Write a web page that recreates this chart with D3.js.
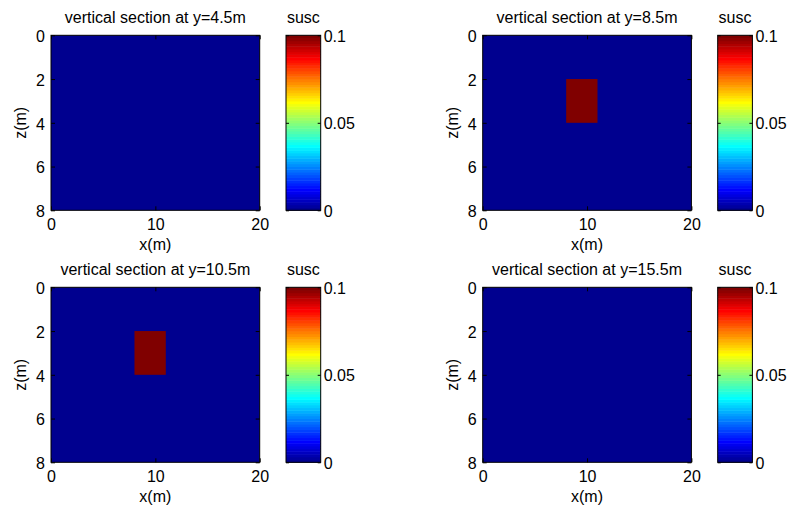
<!DOCTYPE html>
<html>
<head>
<meta charset="utf-8">
<script src="https://cdn.jsdelivr.net/npm/d3@7"></script>
<style>
  html, body { margin: 0; padding: 0; background: #fff; }
  svg text { font-family: "Liberation Sans", Arial, Helvetica, sans-serif; font-size: 16px; fill: #000; }
</style>
</head>
<body>
<svg id="chart" width="791" height="512"></svg>
<script>
// --- data ---
var sectionY   = [4.5, 8.5, 10.5, 15.5];      // y of each vertical section (m)
var bodySusc   = [0, 0.1, 0.1, 0];            // susceptibility of the body in each section
var background = 0;                           // host susceptibility
var bodyX      = [8, 11];                     // body extent along x (m)
var bodyZ      = [2, 4];                      // body extent along z (m)
var xDomain    = [0, 20];
var zDomain    = [0, 8];
var suscDomain = [0, 0.1];
var xTicks     = [0, 10, 20];
var zTicks     = [0, 2, 4, 6, 8];
var cbTicks    = [0, 0.05, 0.1];
var cbLabels   = ["0", "0.05", "0.1"];

// MATLAB jet(64)
var jet = d3.range(64).map(function(i) {
    var t = (i + 1) / 64;
    var f = function(c) { return Math.max(0, Math.min(1, 1.5 - Math.abs(4 * t - c))); };
    return d3.rgb(f(3) * 255, f(2) * 255, f(1) * 255).formatHex();
});
var color = d3.scaleQuantize().domain(suscDomain).range(jet);

var svg = d3.select("#chart");

var plotW = 208.7, plotH = 175, cbGap = 26.3, cbW = 34.7, tickLen = 4;
var origins = [[51, 35.3], [482.7, 35.3], [51, 287.3], [482.7, 287.3]];

var x = d3.scaleLinear().domain(xDomain).range([0, plotW]);
var z = d3.scaleLinear().domain(zDomain).range([0, plotH]);
var s = d3.scaleLinear().domain(suscDomain).range([plotH, 0]);

sectionY.forEach(function(yVal, i) {
    var g = svg.append("g").attr("transform", "translate(" + origins[i][0] + "," + origins[i][1] + ")");

    var cells = [{ x0: xDomain[0], x1: xDomain[1], z0: zDomain[0], z1: zDomain[1], v: background }];
    if (bodySusc[i] > background) {
        cells.push({ x0: bodyX[0], x1: bodyX[1], z0: bodyZ[0], z1: bodyZ[1], v: bodySusc[i] });
    }

    g.selectAll("rect.cell").data(cells).enter().append("rect")
        .attr("class", "cell")
        .attr("x", function(d) { return x(d.x0); })
        .attr("y", function(d) { return z(d.z0); })
        .attr("width", function(d) { return x(d.x1) - x(d.x0); })
        .attr("height", function(d) { return z(d.z1) - z(d.z0); })
        .attr("fill", function(d) { return color(d.v); });

    // axes: ticks pointing inward on all four sides (box on)
    var xa = g.append("g").attr("transform", "translate(0," + plotH + ")")
        .call(d3.axisBottom(x).tickValues(xTicks).tickSize(-tickLen).tickFormat(d3.format("d")));
    g.append("g").call(d3.axisTop(x).tickValues(xTicks).tickSize(-tickLen).tickFormat(""));
    var za = g.append("g")
        .call(d3.axisLeft(z).tickValues(zTicks).tickSize(-tickLen).tickFormat(d3.format("d")));
    g.append("g").attr("transform", "translate(" + plotW + ",0)")
        .call(d3.axisRight(z).tickValues(zTicks).tickSize(-tickLen).tickFormat(""));

    g.selectAll(".domain").remove();
    g.selectAll(".tick line").attr("stroke", "#000");
    g.selectAll(".tick text").style("font-size", "16px").style("font-family", null).attr("fill", "#000");
    xa.selectAll(".tick text").attr("dy", null).attr("y", 20);
    za.selectAll(".tick text").attr("x", -6).attr("dy", "0.4em");

    g.append("rect").attr("width", plotW).attr("height", plotH)
        .attr("fill", "none").attr("stroke", "#000").attr("stroke-width", 1);

    g.append("text").attr("x", plotW / 2).attr("y", -12.3).attr("text-anchor", "middle")
        .text("vertical section at y=" + yVal + "m");
    g.append("text").attr("x", plotW / 2).attr("y", plotH + 40).attr("text-anchor", "middle").text("x(m)");
    g.append("text").attr("transform", "translate(-25," + (plotH / 2) + ") rotate(-90)")
        .attr("text-anchor", "middle").text("z(m)");

    // colorbar
    var cb = g.append("g").attr("transform", "translate(" + (plotW + cbGap) + ",0)");
    var step = (suscDomain[1] - suscDomain[0]) / jet.length;
    cb.selectAll("rect.band").data(jet).enter().append("rect")
        .attr("class", "band")
        .attr("x", 0)
        .attr("width", cbW)
        .attr("y", function(d, k) { return s(suscDomain[0] + (k + 1) * step); })
        .attr("height", function(d, k) { return s(suscDomain[0] + k * step) - s(suscDomain[0] + (k + 1) * step) + 0.5; })
        .attr("fill", function(d) { return d; });

    var ca = cb.append("g").attr("transform", "translate(" + cbW + ",0)")
        .call(d3.axisRight(s).tickValues(cbTicks).tickSize(-3)
            .tickFormat(function(d, k) { return cbLabels[k]; }));
    cb.append("g").call(d3.axisLeft(s).tickValues(cbTicks).tickSize(-3).tickFormat(""));
    cb.selectAll(".domain").remove();
    cb.selectAll(".tick line").attr("stroke", "#000");
    ca.selectAll(".tick text").style("font-size", "16px").style("font-family", null)
        .attr("fill", "#000").attr("x", 3).attr("dy", "0.38em");

    cb.append("rect").attr("width", cbW).attr("height", plotH)
        .attr("fill", "none").attr("stroke", "#000").attr("stroke-width", 1);
    cb.append("text").attr("x", cbW / 2).attr("y", -12.3).attr("text-anchor", "middle").text("susc");
});
</script>
</body>
</html>
